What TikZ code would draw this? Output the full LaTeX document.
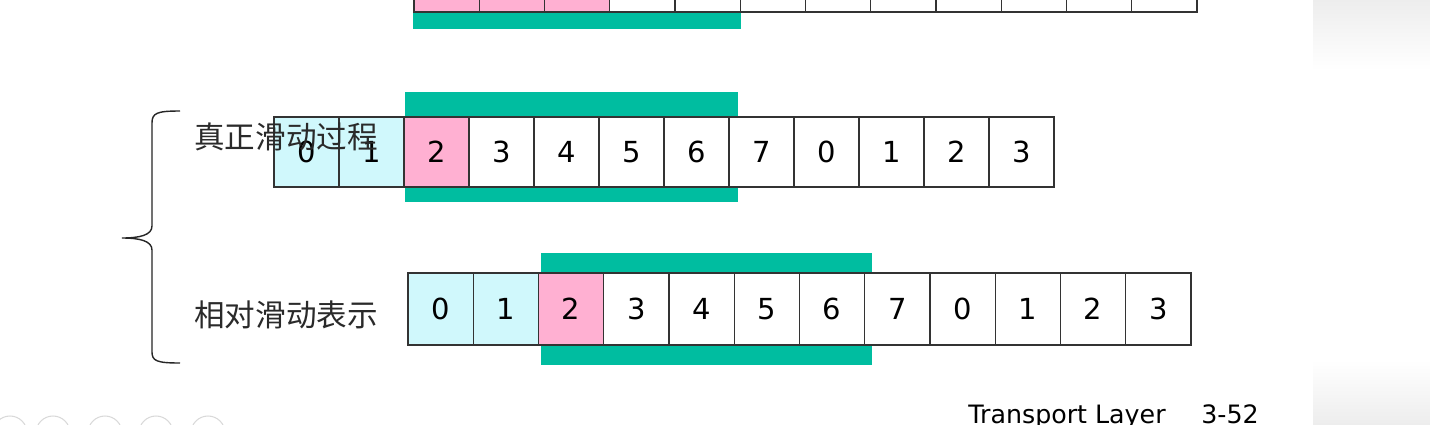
\documentclass[tikz,border=0pt]{standalone}
\usepackage{fontspec}
\setmainfont{DejaVu Sans}
\newfontfamily\cjk{Noto Sans CJK SC}
\usetikzlibrary{positioning}
\definecolor{AckCyan}{HTML}{D0F8FC}
\definecolor{SentPink}{HTML}{FFB0D2}
\definecolor{WinGreen}{HTML}{00BDA0}
\definecolor{TextGray}{HTML}{2A2A2A}
\tikzset{
    % sequence number cells
    cell/.style={
        rectangle,
        draw=black!80,
        fill=white,
        line width=0.6pt,
        minimum width=1.3cm,
        minimum height=1.4cm,
        inner sep=0pt,
        font=\fontsize{16.5}{18}\selectfont
    },
    acked/.style={cell, fill=AckCyan},
    sent/.style={cell, fill=SentPink},
    % window bars
    window/.style={fill=WinGreen},
    rowlabel/.style={
        inner sep=0pt,
        anchor=west,
        text=TextGray,
        font=\cjk\fontsize{17.4}{20}\selectfont
    },
    footer/.style={
        inner sep=0pt,
        anchor=base west,
        font=\fontsize{14.4}{16}\selectfont
    }
}

\begin{document}
\begin{tikzpicture}[x=0.02cm, y=-0.02cm]
    \useasboundingbox (0,0) rectangle (1430,424);
    \clip (0,0) rectangle (1430,424);
    \fill[white] (0,0) rectangle (1430,424);

    % slide edge at right
    \shade[top color=gray!14, bottom color=white] (1313,0) rectangle (1430,70);
    \shade[top color=white, bottom color=gray!14] (1313,360) rectangle (1430,424);

    % Row cut off at the top
    \foreach \s [count=\i from 0] in {sent,sent,sent,cell,cell,cell,cell,cell,cell,cell,cell,cell} {
        \node[\s, minimum width=1.305cm] (top\i) at ({414+65.25*\i+32.6},-23) {};
    }
    \fill[window] (top0.south west) rectangle ([yshift=-0.33cm]top4.south east);

    % Real sliding
    \foreach \d/\s [count=\i from 0] in {0/acked,1/acked,2/sent,3/cell,4/cell,5/cell,6/cell,7/cell,0/cell,1/cell,2/cell,3/cell} {
        \node[\s] (mid\i) at ({274+65*\i+32.5},152) {\d};
    }
    \fill[window] ([xshift=0.04cm]mid2.north west) rectangle ([xshift=0.16cm, yshift=0.49cm]mid6.north east);
    \fill[window] ([xshift=0.04cm]mid2.south west) rectangle ([xshift=0.16cm, yshift=-0.28cm]mid6.south east);

    % Relative sliding
    \foreach \d/\s [count=\i from 0] in {0/acked,1/acked,2/sent,3/cell,4/cell,5/cell,6/cell,7/cell,0/cell,1/cell,2/cell,3/cell} {
        \node[\s, minimum width=1.305cm, minimum height=1.44cm] (bot\i) at ({408+65.25*\i+32.6},309) {\d};
    }
    \fill[window] ([xshift=0.07cm]bot2.north west) rectangle ([xshift=0.14cm, yshift=0.38cm]bot6.north east);
    \fill[window] ([xshift=0.07cm]bot2.south west) rectangle ([xshift=0.14cm, yshift=-0.38cm]bot6.south east);

    % Labels
    \node[rowlabel] (realLbl) at (194,137) {真正滑动过程};
    \node[rowlabel] (relLbl) at (194,315) {相对滑动表示};

    % Brace
    \draw[line width=0.8pt, black!85]
        (180,111) .. controls (157,111) and (152,113) .. (152,123) -- (152,226)
        .. controls (152,235) and (140,238) .. (122,238)
        .. controls (140,238) and (152,241) .. (152,250) -- (152,352)
        .. controls (152,361) and (157,363) .. (180,363);

    % Player buttons
    \foreach \x in {10,53,105,156,208} {
        \draw[gray!30, line width=0.6pt] (\x,433) circle[radius=0.34cm];
    }

    % Footer
    \node[footer] (footLayer) at (968,423) {Transport Layer};
    \node[footer] (footPage) at (1201,423) {3-52};
\end{tikzpicture}
\end{document}
